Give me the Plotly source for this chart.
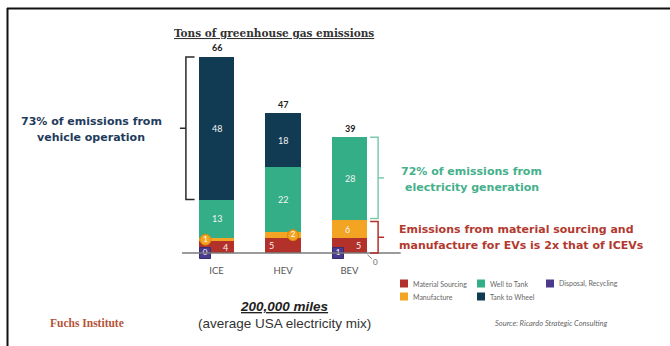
import plotly.graph_objects as go

# ---- data -------------------------------------------------------------
categories = ["ICE", "HEV", "BEV"]
material_sourcing = [4, 5, 5]
manufacture = [1, 2, 6]
well_to_tank = [13, 22, 28]
tank_to_wheel = [48, 18, 0]
disposal_recycling = [0, None, 1]
totals = [66, 47, 39]

series_names = ["Material Sourcing", "Manufacture", "Well to Tank", "Tank to Wheel"]
series_values = [material_sourcing, manufacture, well_to_tank, tank_to_wheel]

# ---- style ------------------------------------------------------------
RED = "#b3312b"
ORANGE = "#f2a422"
GREEN = "#33ae86"
NAVY = "#113b53"
PURPLE = "#4b3a8b"
colors = {"Material Sourcing": RED, "Manufacture": ORANGE, "Well to Tank": GREEN,
          "Tank to Wheel": NAVY, "Disposal, Recycling": PURPLE}
SANS = "Lato, 'Open Sans', sans-serif"
HEAVY = "'DejaVu Sans', sans-serif"

W, H = 670, 346
L, R, T, B = 150, 254, 40, 87
PW, PH = W - L - R, H - T - B
X_RANGE = [-1, 3]
Y_RANGE = [-(259 - 253) / 2.97, (253 - 40) / 2.97]
PX_PER_X = PW / (X_RANGE[1] - X_RANGE[0])


def px(xp):
    return (xp - L) / PW


def py(yp):
    return (H - B - yp) / PH


xpos = list(range(len(categories)))
fig = go.Figure()

for name, vals in zip(series_names, series_values):
    fig.add_trace(go.Bar(x=xpos, y=vals, name=name, width=0.54,
                         marker=dict(color=colors[name], line=dict(width=0)),
                         showlegend=False, hoverinfo="skip"))

# segment value labels (pixel nudges for the thin segments)
label_shift = {("Material Sourcing", 0): 9, ("Material Sourcing", 1): -12,
               ("Material Sourcing", 2): 9, ("Manufacture", 0): -11,
               ("Manufacture", 1): 10, ("Manufacture", 2): -2}
annotations = []
bottoms = [0] * len(categories)
badge_x, badge_y, badge_t = [], [], []
for name, vals in zip(series_names, series_values):
    for i, v in enumerate(vals):
        mid = bottoms[i] + v / 2
        shift = label_shift.get((name, i), 0)
        if v and name == "Manufacture" and v < 3:
            badge_x.append(i + shift / PX_PER_X)
            badge_y.append(mid)
            badge_t.append(str(v))
        elif v:
            annotations.append(dict(x=i, y=mid, xref="x", yref="y", text=str(v),
                                    xshift=shift, showarrow=False,
                                    font=dict(family=SANS, size=9, color="#f4f4f4")))
        bottoms[i] += v

fig.add_trace(go.Scatter(x=badge_x, y=badge_y, mode="markers+text", text=badge_t,
                         textfont=dict(family=SANS, size=8, color="white"),
                         marker=dict(symbol="circle", size=11, color=ORANGE,
                                     line=dict(color="#d9870e", width=1)),
                         showlegend=False, hoverinfo="skip"))

# disposal / recycling badges sitting on the baseline
dx = [i - 11.5 / PX_PER_X for i, v in enumerate(disposal_recycling) if v is not None]
dv = [v for v in disposal_recycling if v is not None]
fig.add_trace(go.Scatter(x=dx, y=[0] * len(dv), mode="markers+text",
                         text=[str(v) for v in dv],
                         textfont=dict(family=SANS, size=8, color="white"),
                         marker=dict(symbol="square", size=11, color=PURPLE,
                                     line=dict(color="#3a2c70", width=1)),
                         showlegend=False, hoverinfo="skip"))

# totals above each stack
for i, tot in enumerate(totals):
    annotations.append(dict(x=i, y=tot, xref="x", yref="y", text=f"<b>{tot}</b>",
                            yshift=9, showarrow=False,
                            font=dict(family=SANS, size=9, color="#222")))

# zero label for the BEV tank-to-wheel share
bev = categories.index("BEV")
annotations.append(dict(x=bev, y=tank_to_wheel[bev], xref="x", yref="y",
                        text=str(tank_to_wheel[bev]), xshift=26, yshift=-9,
                        showarrow=False, font=dict(family=SANS, size=8, color="#666")))

shapes = []
# baseline
shapes.append(dict(type="line", xref="x", yref="y", x0=-0.52, x1=2.77, y0=0, y1=0,
                   line=dict(color="#7a7a7a", width=1.5)))
shapes.append(dict(type="line", xref="x", yref="y",
                   x0=bev + 0.27, x1=bev + 0.34, y0=-0.6, y1=-2.0,
                   line=dict(color="#888", width=1)))


def bracket(xv, xcap, xtick, y0, y1, color):
    ym = (y0 + y1) / 2
    return [dict(type="path", xref="x", yref="y",
                 path=f"M {xcap},{y1} L {xv},{y1} L {xv},{y0} L {xcap},{y0}",
                 line=dict(color=color, width=1.5)),
            dict(type="line", xref="x", yref="y", x0=xv, x1=xtick, y0=ym, y1=ym,
                 line=dict(color=color, width=1.5))]


ice = categories.index("ICE")
ice_op_low = material_sourcing[ice] + manufacture[ice] + well_to_tank[ice]
shapes += bracket(ice - 0.46, ice - 0.33, ice - 0.55, ice_op_low, totals[ice], "#2a2a2a")
bev_mfg = material_sourcing[bev] + manufacture[bev]
shapes += bracket(bev + 0.43, bev + 0.31, bev + 0.52, bev_mfg + 0.6, totals[bev], "#7cc9ad")
shapes += bracket(bev + 0.43, bev + 0.31, bev + 0.52, 0, bev_mfg - 0.4, RED)

# frame
shapes.append(dict(type="line", xref="paper", yref="paper", x0=px(7), x1=px(670),
                   y0=py(8.5), y1=py(8.5), line=dict(color="#111", width=2)))
shapes.append(dict(type="line", xref="paper", yref="paper", x0=px(7.5), x1=px(7.5),
                   y0=py(8), y1=py(346), line=dict(color="#111", width=2)))

# hand-drawn style legend
legend_rows = [["Material Sourcing", "Well to Tank", "Disposal, Recycling"],
               ["Manufacture", "Tank to Wheel"]]
col_x = [400, 477, 546]
row_y = [283.5, 296.5]
for r, row in enumerate(legend_rows):
    for c, name in enumerate(row):
        x0 = col_x[c]
        y0 = row_y[r]
        shapes.append(dict(type="rect", xref="paper", yref="paper",
                           x0=px(x0), x1=px(x0 + 8), y0=py(y0 - 4), y1=py(y0 + 4),
                           fillcolor=colors[name], line=dict(width=0)))
        annotations.append(dict(x=px(x0 + 11), y=py(y0), xref="paper", yref="paper",
                                text=name, xanchor="left", yanchor="middle",
                                showarrow=False,
                                font=dict(family=SANS, size=7, color="#666")))


def text(xp, yp, s, size, color, family=SANS, anchor="center"):
    annotations.append(dict(x=px(xp), y=py(yp), xref="paper", yref="paper", text=s,
                            xanchor=anchor, yanchor="middle", showarrow=False,
                            font=dict(family=family, size=size, color=color)))


text(274, 33, "<b><u>Tons of greenhouse gas emissions</u></b>", 10.5, "#333",
     family="'DejaVu Serif', serif")
text(91, 121, "<b>73% of emissions from</b>", 11, "#1f3b5c", family=HEAVY)
text(91, 137, "<b>vehicle operation</b>", 11, "#1f3b5c", family=HEAVY)
text(399, 171, "<b>72% of emissions from</b>", 11, "#45b08b", family=HEAVY, anchor="left")
text(403, 187, "<b>electricity generation</b>", 11, "#45b08b", family=HEAVY, anchor="left")
text(397, 229, "<b>Emissions from material sourcing and</b>", 11, "#b3392f",
     family=HEAVY, anchor="left")
text(397, 245, "<b>manufacture for EVs is 2x that of ICEVs</b>", 11, "#b3392f",
     family=HEAVY, anchor="left")
text(284, 306, "<b><i><u>200,000 miles</u></i></b>", 13.5, "#222",
     family="'Liberation Sans', Arial, sans-serif")
text(284, 323, "(average USA electricity mix)", 13.5, "#333",
     family="'Liberation Sans', Arial, sans-serif")
text(87, 323, "<b>Fuchs Institute</b>", 11.5, "#b4533a",
     family="'Liberation Serif', serif")
text(551, 323, "<i>Source: Ricardo Strategic Consulting</i>", 7.5, "#666")

fig.update_layout(
    width=W, height=H, barmode="stack",
    margin=dict(l=L, r=R, t=T, b=B, pad=0),
    paper_bgcolor="white", plot_bgcolor="white",
    xaxis=dict(range=X_RANGE, tickvals=xpos, ticktext=categories, showgrid=False,
               zeroline=False, showline=False, ticks="", fixedrange=True,
               ticklabelstandoff=4,
               tickfont=dict(family=SANS, size=9.5, color="#555")),
    yaxis=dict(range=Y_RANGE, visible=False, fixedrange=True),
    shapes=shapes, annotations=annotations, showlegend=False,
)
fig.update_traces(cliponaxis=False, selector=dict(type="scatter"))

fig.write_html("out.html")
